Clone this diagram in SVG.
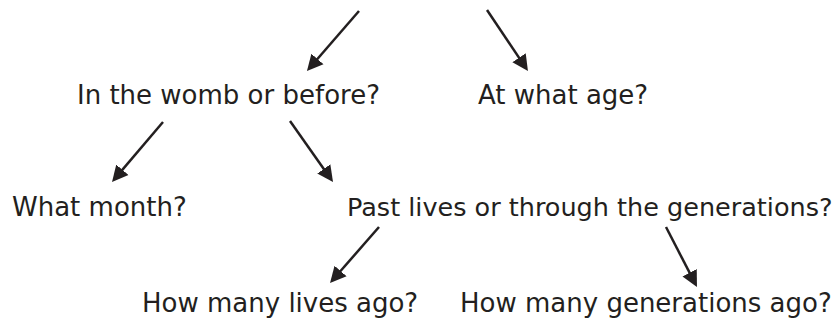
<svg xmlns="http://www.w3.org/2000/svg" width="837" height="320" viewBox="0 0 837 320">
<style>
  .lbl { font-family: "DejaVu Sans", "Liberation Sans", sans-serif; font-size: 26px; fill: #231f20; }
  .arr { stroke: #231f20; stroke-width: 2.5; fill: none; marker-end: url(#head); }
</style>
<defs>
  <marker id="head" markerUnits="userSpaceOnUse" markerWidth="18" markerHeight="18" refX="8" refY="8" orient="auto" viewBox="0 0 18 16">
    <path d="M0,0 L16,8 L0,16 z" fill="#231f20"/>
  </marker>
</defs>
<rect width="837" height="320" fill="#ffffff"/>
<g id="connectors">
  <line class="arr" x1="359" y1="11" x2="312.2" y2="65.0"/>
  <line class="arr" x1="487" y1="10" x2="523.5" y2="64.4"/>
  <line class="arr" x1="163" y1="122" x2="117.2" y2="175.9"/>
  <line class="arr" x1="290" y1="121" x2="328.4" y2="175.5"/>
  <line class="arr" x1="379" y1="227" x2="335.3" y2="277.0"/>
  <line class="arr" x1="666" y1="227" x2="693.3" y2="279.9"/>
</g>
<g id="node-womb"><text class="lbl" x="77" y="104">In the womb or before?</text></g>
<g id="node-age"><text class="lbl" x="478" y="104">At what age?</text></g>
<g id="node-month"><text class="lbl" x="12" y="216">What month?</text></g>
<g id="node-past"><text class="lbl" x="347" y="216" style="font-size:25.5px">Past lives or through the generations?</text></g>
<g id="node-lives"><text class="lbl" x="142" y="312">How many lives ago?</text></g>
<g id="node-generations"><text class="lbl" x="460" y="312">How many generations ago?</text></g>
</svg>
